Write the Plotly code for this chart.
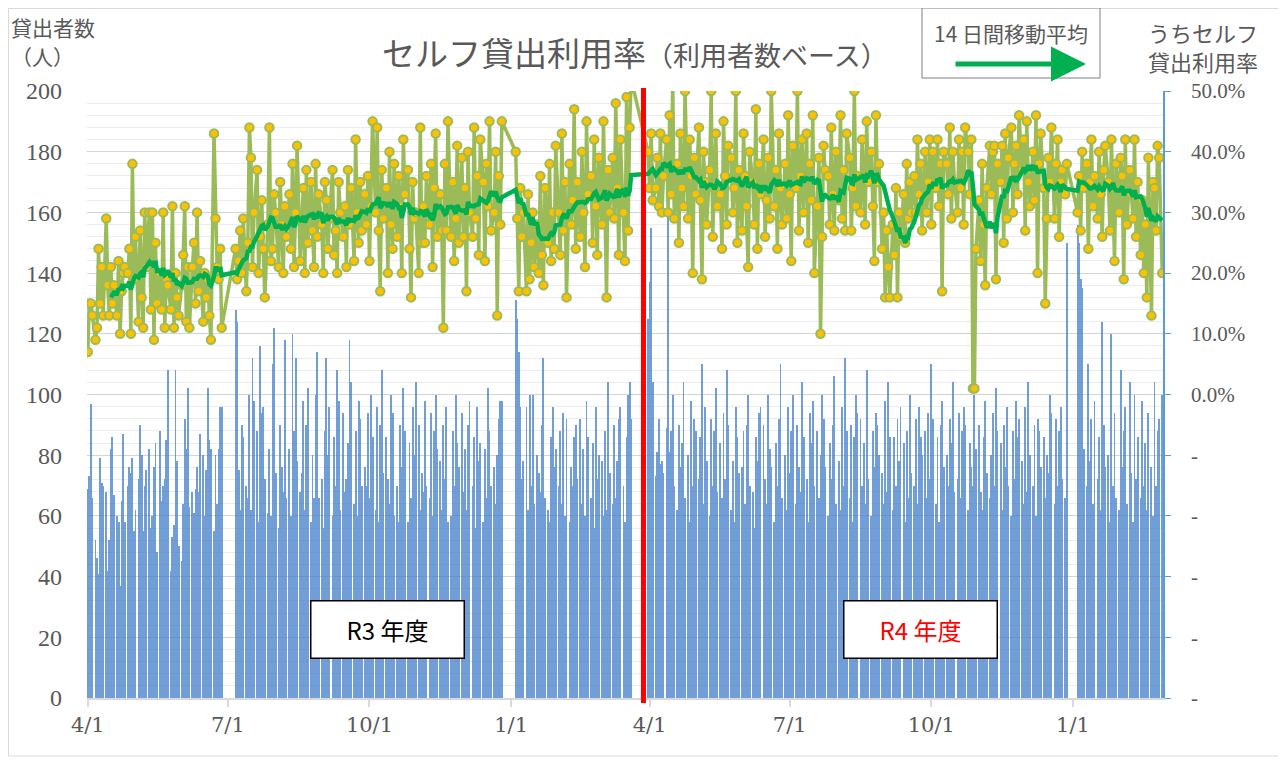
import pandas as pd
import plotly.graph_objects as go

N = None
# one row per week (Mon..Sun); first row starts Thu 2021-04-01, last row ends Tue 2023-02-28
rate_pct = [
    7, 15, 15, 13,                      # 2021-04-01..04
    N, 9, 11, 24, 15, 21, 13,
    N, 29, 18, 13, 21, 15, 18,
    N, 13, 22, 10, 17, 20, 21,
    N, 20, 24, 10, 38, 19, 26,
    N, 12, 27, 16, 11, 30, 21,          # May
    N, 30, 14, 30, 9, 25, 15,
    N, 20, 14, 30, 11, 19, 18,
    N, 14, 31, 11, 20, 16, 13,
    N, 18, 23, 31, 12, 21, 11,
    N, 21, 25, 15, 30, 17, 22,          # Jun
    N, 12, 20, 16, 19, 13, 9,
    N, 43, 29, 21, 19, 24, 11,
    N, N, N, N, N, N, N,
    N, 24, 19, 22, 27, 20, 29,          # Jul
    N, 17, 25, 44, 39, 21, 30,
    N, 37, 20, 26, 32, 24, 16,
    N, 28, 44, 22, 24, 33, 30,
    N, 21, 35, 28, 20, 31, 26,          # Aug
    N, 33, 24, 38, 21, 30, 41,
    N, 22, 29, 34, 20, 37, 25,
    N, 35, 27, 21, 38, 26, 33,
    N, 28, 20, 35, 32, 24, 29,
    N, 37, 23, 27, 20, 35, 30,          # Sep
    N, 26, 31, 21, 37, 28, 34,
    N, 22, 42, 30, 25, 35, 27,
    N, 33, 28, 36, 22, 31, 45,
    N, 30, 44, 27, 17, 37, 29,          # Oct
    N, 34, 20, 40, 28, 24, 38,
    N, 26, 36, 31, 20, 42, 33,
    N, 37, 24, 16, 35, 29, 30,
    N, 20, 44, 25, 31, 25, 36,          # Nov
    N, 28, 38, 21, 34, 43, 26,
    N, 33, 27, 11, 38, 27, 45,
    N, 26, 35, 22, 29, 41, 25,
    N, 39, 26, 34, 17, 40, 30,
    N, 26, 44, 29, 36, 23, 42,          # Dec
    N, 35, 22, 38, 31, 45, 27,
    N, 30, 40, 13, 36, 28, 45,
    N, N, N, N, N, N, N,
    N, 40, 29, 17, 34, 26, 30,          # Jan 2022
    N, 17, 33, 19, 25, 30, 21,
    N, 28, 20, 36, 23, 18, 34,
    N, 25, 38, 22, 30, 24, 41,
    N, 30, 23, 43, 27, 35, 16,
    N, 38, 28, 32, 47, 24, 35,          # Feb
    N, 26, 40, 30, 21, 45, 33,
    N, 36, 25, 42, 31, 23, 39,
    N, 28, 45, 33, 16, 37, 30,
    N, 39, 29, 48, 34, 23, 42,          # Mar
    N, 30, 22, 49, 27, 44, 52,
    N, N, N, N, N, N, N,
    N, N, N, 40, 34, 43, 32,
    N, 34, 39, 31, 43, 30, 36,          # Apr 2022
    N, 42, 30, 46, 33, 52, 29,
    N, 38, 25, 43, 34, 31, 50,
    N, 29, 42, 36, 20, 39, 33,
    N, 44, 32, 19, 40, 35, 28,          # May
    N, 37, 50, 26, 34, 43, 31,
    N, 33, 24, 45, 36, 28, 41,
    N, 39, 30, 34, 50, 25, 37,
    N, 27, 43, 36, 31, 21, 40,
    N, 35, 28, 47, 24, 38, 33,          # Jun
    N, 42, 26, 32, 39, 29, 50,
    N, 31, 37, 24, 43, 34, 28,
    N, 38, 29, 46, 33, 22, 41,
    N, 34, 50, 27, 36, 42, 30,          # Jul
    N, 43, 25, 38, 32, 46, 20,
    N, 31, 39, 10, 26, 41, 37,
    N, 36, 28, 44, 33, 27, 40,
    N, 32, 46, 29, 37, 27, 43,          # Aug
    N, 39, 27, 34, 50, 31, 36,
    N, 30, 42, 36, 28, 45, 35,
    N, 40, 31, 22, 46, 35, 38,
    N, 24, 30, 16, 27, 21, 16,
    N, 28, 23, 34, 16, 30, 26,          # Sep
    N, 33, 25, 38, 29, 35, 30,
    N, 36, 30, 42, 33, 38, 27,
    N, 40, 30, 35, 42, 28, 40,
    N, 34, 42, 31, 38, 17, 40,          # Oct
    N, 38, 33, 44, 29, 40, 35,
    N, 30, 42, 34, 40, 28, 44,
    N, 40, 33, 42, 1, 1, 24,
    N, 32, 22, 38, 28, 18, 34,          # Nov
    N, 41, 33, 40, 41, 19, 38,
    N, 35, 41, 25, 43, 29, 39,
    N, 44, 30, 38, 41, 33, 46,
    N, 37, 42, 27, 45, 35, 31,
    N, 40, 32, 46, 20, 38, 43,          # Dec
    N, 34, 15, 29, 39, 35, 44,
    N, 29, 38, 42, 26, 35, 37,
    N, 33, 38, N, N, N, N,
    N, N, 30, 36, 27, 40, 34,           # Jan 2023
    N, 38, 24, 35, 42, 31, 36,
    N, 29, 40, 33, 26, 37, 41,
    N, 35, 27, 42, 34, 22, 38,
    N, 30, 39, 36, 19, 42, 28,
    N, 37, 33, 29, 42, 26, 35,          # Feb
    N, 23, 32, 20, 28, 16, 39,
    N, 13, 35, 34, 27, 41, 39,
    N, 20,
]

borrowers = [
    69, 73, 97, 66,
    N, 52, 46, 41, 79, 71, 70,
    N, 68, 42, 52, 82, 86, 67,
    N, 60, 58, 37, 65, 87, 58,
    N, 70, 76, 74, 79, 55, 62,
    N, 72, 90, 80, 55, 70, 75,
    N, 82, 56, 60, 76, 84, 48,
    N, 88, 65, 70, 72, 85, 108,
    N, 42, 53, 57, 108, 78, 50,
    N, 45, 64, 92, 82, 102, 63,
    N, 68, 61, 69, 76, 68, 87,
    N, 80, 60, 75, 102, 85, 82,
    N, 55, 80, 64, 82, 96, 96,
    N, N, N, N, N, N, N,
    N, 128, 124, 75, 62, 90, 86,
    N, 70, 66, 100, 62, 112, 98,
    N, 88, 58, 116, 94, 96, 72,
    N, 61, 82, 60, 110, 122, 74,
    N, 56, 90, 76, 68, 118, 66,
    N, 82, 60, 120, 88, 112, 78,
    N, 68, 74, 98, 62, 90, 102,
    N, 58, 80, 66, 100, 114, 66,
    N, 72, 56, 88, 112, 80, 96,
    N, 60, 86, 70, 108, 98, 62,
    N, 94, 68, 72, 84, 118, 104,
    N, 64, 88, 60, 98, 92, 70,
    N, 76, 70, 94, 66, 100, 86,
    N, 62, 96, 58, 90, 108, 74,
    N, 86, 72, 64, 100, 94, 60,
    N, 70, 58, 90, 76, 102, 88,
    N, 58, 84, 66, 96, 80, 104,
    N, 90, 62, 74, 68, 98, 70,
    N, 66, 94, 60, 88, 100, 82,
    N, 78, 62, 90, 72, 96, 58,
    N, 60, 88, 70, 100, 84, 76,
    N, 94, 68, 82, 62, 90, 98,
    N, 70, 86, 56, 96, 78, 84,
    N, 58, 82, 66, 102, 88, 70,
    N, 76, 64, 80, 92, 98, 98,
    N, N, N, N, N, N, N,
    N, 131, 125, 114, 96, 72, 78,
    N, 96, 62, 100, 70, 100, 64,
    N, 80, 74, 68, 90, 112, 66,
    N, 62, 58, 86, 96, 76, 82,
    N, 70, 88, 64, 94, 60, 92,
    N, 58, 76, 70, 86, 90, 72,
    N, 92, 64, 82, 60, 98, 86,
    N, 66, 84, 56, 96, 72, 80,
    N, 78, 60, 88, 62, 104, 74,
    N, 64, 90, 66, 78, 92, 96,
    N, 70, 58, 86, 100, 104, 92,
    N, N, N, N, N, N, N,
    N, N, N, 125, 137, 155, 104,
    N, 73, 81, 92, 77, 78, 74,
    N, 89, 168, 81, 88, 100, 70,
    N, 62, 90, 76, 84, 104, 66,
    N, 80, 58, 98, 70, 92, 88,
    N, 72, 86, 110, 64, 96, 78,
    N, 60, 92, 70, 88, 102, 68,
    N, 84, 66, 94, 72, 108, 90,
    N, 62, 78, 58, 96, 86, 74,
    N, 76, 88, 64, 90, 100, 70,
    N, 68, 56, 86, 78, 94, 96,
    N, 90, 72, 64, 100, 82, 76,
    N, 58, 84, 70, 92, 110, 66,
    N, 80, 62, 96, 74, 88, 100,
    N, 64, 90, 76, 68, 104, 86,
    N, 72, 58, 94, 84, 98, 70,
    N, 88, 66, 80, 100, 92, 76,
    N, 60, 84, 72, 90, 106, 64,
    N, 78, 62, 96, 70, 112, 88,
    N, 66, 90, 58, 86, 100, 94,
    N, 92, 70, 84, 64, 108, 72,
    N, 60, 88, 76, 94, 90, 80,
    N, 74, 64, 98, 68, 104, 86,
    N, 62, 86, 70, 92, 78, 96,
    N, 84, 58, 88, 66, 100, 74,
    N, 70, 92, 64, 96, 86, 80,
    N, 88, 66, 94, 72, 110, 92,
    N, 64, 86, 58, 90, 98, 76,
    N, 80, 70, 92, 84, 104, 68,
    N, 72, 94, 66, 88, 96, 90,
    N, 62, 84, 76, 70, 100, 82,
    N, 90, 68, 62, 86, 98, 74,
    N, 66, 80, 94, 70, 102, 88,
    N, 84, 62, 90, 76, 96, 70,
    N, 60, 88, 72, 98, 86, 92,
    N, 78, 64, 96, 68, 104, 80,
    N, 70, 90, 60, 92, 88, 76,
    N, 86, 66, 80, 74, 100, 94,
    N, 64, 92, 70, 88, 96, 72,
    N, 66, 150, N, N, N, N,
    N, N, 156, 150, 138, 135, 82,
    N, 70, 110, 78, 92, 64, 98,
    N, 72, 86, 62, 124, 90, 76,
    N, 80, 58, 120, 70, 94, 66,
    N, 62, 108, 76, 88, 96, 64,
    N, 104, 74, 58, 100, 72, 86,
    N, 66, 98, 70, 84, 62, 94,
    N, 76, 60, 104, 70, 88, 92,
    N, 100,
]

start_date = "2021-04-01"
end_date = "2023-02-28"
fy_boundary = "2022-03-28"
quarter_start = "2021-04-01"

left_ticks = list(range(0, 201, 20))
right_ticks = list(range(-50, 51, 10))

dates = pd.date_range(start_date, end_date, freq="D")
assert len(dates) == len(rate_pct) == len(borrowers)

rate = pd.Series(rate_pct, index=dates, dtype="float")
open_rate = rate.dropna()
ma14 = open_rate.rolling(14).mean().dropna()

GRAY = "#595959"
JP = "Noto Sans CJK JP"

fig = go.Figure()
fig.add_trace(go.Bar(
    x=dates, y=borrowers, yaxis="y",
    marker=dict(color="#4F86CF", line=dict(width=0)),
    width=0.6 * 86400000, opacity=0.8, showlegend=False,
))
fig.add_trace(go.Scatter(
    x=open_rate.index, y=open_rate.values, yaxis="y2", mode="lines+markers",
    line=dict(color="#9BBB59", width=3.5),
    marker=dict(size=8.5, color="#FFC000", line=dict(color="#9BBB59", width=2)),
    showlegend=False,
))
fig.add_trace(go.Scatter(
    x=ma14.index, y=ma14.values, yaxis="y2", mode="lines",
    line=dict(color="#00B050", width=4.5), showlegend=False,
))

# arrow head at the end of the moving-average line
fig.add_annotation(
    x=ma14.index[-1], y=ma14.values[-1], xref="x", yref="y2",
    ax=ma14.index[-4], ay=ma14.values[-4], axref="x", ayref="y2",
    text="", showarrow=True, arrowhead=2, arrowsize=1.3, arrowwidth=4.5,
    arrowcolor="#00B050",
)

# page is shown with an 8px body margin: positions below are page pixels
def px_x(X):
    return (X - 87) / 1076

def px_y(Y):
    return (698 - Y) / 607

fig.update_layout(
    width=1278, height=752,
    margin=dict(l=79, r=123, t=83, b=62),
    paper_bgcolor="white", plot_bgcolor="white",
    bargap=0,
    xaxis=dict(
        type="date",
        range=[pd.Timestamp(start_date) - pd.Timedelta(hours=12),
               pd.Timestamp(end_date) + pd.Timedelta(hours=12)],
        tick0=quarter_start, dtick="M3", tickformat="%-m/%-d",
        ticks="outside", ticklen=7, tickcolor="#d9d9d9", tickwidth=1.5,
        showline=True, linecolor="#d9d9d9", linewidth=2,
        showgrid=False, zeroline=False,
        tickfont=dict(family="DejaVu Serif", size=21, color=GRAY),
        ticklabelstandoff=0,
    ),
    yaxis=dict(
        range=[0, 200], tickvals=left_ticks,
        showgrid=True, gridcolor="#d4d4d4", gridwidth=1.3,
        minor=dict(dtick=4, tick0=0, showgrid=True, gridcolor="#ececec", gridwidth=1),
        showline=False, zeroline=False, ticks="",
        tickfont=dict(family="Liberation Serif", size=24, color=GRAY),
        ticklabelstandoff=24,
    ),
    yaxis2=dict(
        overlaying="y", side="right", range=[-50, 50],
        tickvals=right_ticks,
        ticktext=[f"{v:.1f}%" if v >= 0 else "-" for v in right_ticks],
        showgrid=False, zeroline=False,
        showline=True, linecolor="#5B9BD5", linewidth=1.5,
        ticks="outside", ticklen=6, tickcolor="#5B9BD5",
        tickfont=dict(family="serif", size=21, color=GRAY),
        ticklabelstandoff=16,
    ),
)

# chart area border
fig.add_shape(type="rect", xref="paper", yref="paper",
              x0=px_x(8.5), x1=px_x(1279), y0=px_y(756), y1=px_y(8.5),
              line=dict(color="#d9d9d9", width=1), layer="below")

# fiscal-year boundary
fig.add_shape(type="line", xref="x", yref="paper",
              x0=fy_boundary, x1=fy_boundary, y0=px_y(703), y1=px_y(88),
              line=dict(color="#FF0000", width=5))

# title
fig.add_annotation(
    xref="paper", yref="paper", x=px_x(635), y=px_y(52),
    xanchor="center", yanchor="middle", showarrow=False,
    text="<span style='font-size:33px'>セルフ貸出利用率</span>"
         "<span style='font-size:27px'>（利用者数ベース）</span>",
    font=dict(family=JP, color=GRAY),
)
# left axis title (two lines)
fig.add_annotation(
    xref="paper", yref="paper", x=px_x(9), y=px_y(27),
    xanchor="left", yanchor="middle", showarrow=False,
    text="貸出者数", font=dict(family=JP, size=21, color=GRAY),
)
fig.add_annotation(
    xref="paper", yref="paper", x=px_x(9), y=px_y(56),
    xanchor="left", yanchor="middle", showarrow=False,
    text="（人）", font=dict(family=JP, size=21, color=GRAY),
)
# right axis title
fig.add_annotation(
    xref="paper", yref="paper", x=px_x(1203), y=px_y(32),
    xanchor="center", yanchor="middle", showarrow=False,
    text="うちセルフ", font=dict(family=JP, size=22, color=GRAY),
)
fig.add_annotation(
    xref="paper", yref="paper", x=px_x(1203), y=px_y(61),
    xanchor="center", yanchor="middle", showarrow=False,
    text="貸出利用率", font=dict(family=JP, size=22, color=GRAY),
)
# legend box for moving average
fig.add_shape(type="rect", xref="paper", yref="paper",
              x0=px_x(922), x1=px_x(1100), y0=px_y(78), y1=px_y(8),
              line=dict(color="#7f7f7f", width=1), fillcolor="white")
fig.add_annotation(
    xref="paper", yref="paper", x=px_x(1011), y=px_y(33),
    xanchor="center", yanchor="middle", showarrow=False,
    text="14 日間移動平均", font=dict(family=JP, size=21, color=GRAY),
)
fig.add_annotation(
    xref="paper", yref="paper", x=px_x(1086), y=px_y(64),
    ax=-132, ay=0, text="", showarrow=True, arrowhead=2, arrowsize=1.4,
    arrowwidth=5, arrowcolor="#00B050",
)
# fiscal year labels
fig.add_annotation(
    xref="paper", yref="paper", x=px_x(387), y=px_y(629),
    xanchor="center", yanchor="middle", showarrow=False,
    text="R3 年度", font=dict(family=JP, size=24, color="#000000"),
    bgcolor="white", bordercolor="#000000", borderwidth=1.5,
    width=150, height=54,
)
fig.add_annotation(
    xref="paper", yref="paper", x=px_x(920), y=px_y(629),
    xanchor="center", yanchor="middle", showarrow=False,
    text="R4 年度", font=dict(family=JP, size=24, color="#FF0000"),
    bgcolor="white", bordercolor="#000000", borderwidth=1.5,
    width=150, height=54,
)

fig.write_html("out.html")
